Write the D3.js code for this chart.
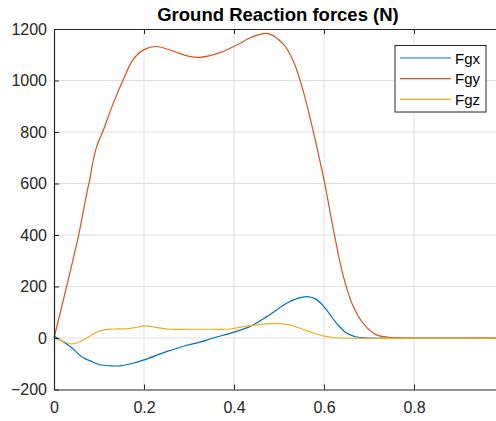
<!DOCTYPE html>
<html><head><meta charset="utf-8">
<script src="https://cdn.jsdelivr.net/npm/d3@7"></script>
<style>body{margin:0;background:#fff;overflow:hidden}svg{display:block}text{font-family:"Liberation Sans",Arial,sans-serif}</style>
</head><body>
<div id="chart"></div>
<script>
const title="Ground Reaction forces (N)";
const xTicks=[0,0.2,0.4,0.6,0.8];
const yTicks=[-200,0,200,400,600,800,1000,1200];
const fgxT=[0,0.018,0.036,0.065,0.085,0.102,0.125,0.147,0.175,0.2,0.25,0.295,0.324,0.354,0.398,0.435,0.473,0.517,0.543,0.563,0.58,0.598,0.628,0.65,0.668,0.68,0.7,1];
const fgxV=[8,-12,-33,-77,-92,-104,-108,-108,-98,-85,-53,-28,-16,0,22,44,83,135,155,161,153,126,57,19,6,2,0,0];
const fgyT=[0,0.028,0.054,0.073,0.08,0.086,0.095,0.11,0.132,0.154,0.176,0.2,0.228,0.265,0.3,0.324,0.369,0.413,0.436,0.476,0.51,0.532,0.554,0.576,0.601,0.621,0.643,0.665,0.687,0.717,0.747,0.78,1];
const fgyV=[0,200,394,563,620,680,744,809,913,1004,1082,1120,1132,1114,1094,1090,1108,1144,1166,1182,1140,1075,958,803,605,420,239,122,57,12,2,0,0];
const fgzT=[0,0.02,0.039,0.058,0.08,0.102,0.132,0.161,0.185,0.202,0.23,0.258,0.3,0.347,0.391,0.428,0.47,0.495,0.52,0.547,0.575,0.598,0.62,0.64,1];
const fgzV=[0,-12,-23,-14,8,28,35,36,42,47,40,34,34,34,35,46,55,57,52,38,20,8,2,0,0];
const series=[
  {name:"Fgx",t:fgxT,v:fgxV,color:"#0072BD"},
  {name:"Fgy",t:fgyT,v:fgyV,color:"#D95319"},
  {name:"Fgz",t:fgzT,v:fgzV,color:"#EDB120"}
];

const W=496,H=421,ax="#262626",grid="#dfdfdf";
const x=d3.scaleLinear().domain([0,1]).range([54,504]);
const y=d3.scaleLinear().domain([-200,1200]).range([389.5,29]);
const svg=d3.select("#chart").append("svg").attr("width",W).attr("height",H);

// grid
svg.append("g").selectAll("line").data(xTicks.slice(1)).join("line")
  .attr("x1",d=>x(d)).attr("x2",d=>x(d)).attr("y1",y(-200)).attr("y2",y(1200))
  .attr("stroke",grid).attr("stroke-width",1);
svg.append("g").selectAll("line").data(yTicks.slice(1,-1)).join("line")
  .attr("x1",x(0)).attr("x2",x(1)).attr("y1",d=>y(d)).attr("y2",d=>y(d))
  .attr("stroke",grid).attr("stroke-width",1);

// data
const line=d3.line().x(d=>x(d[0])).y(d=>y(d[1])).curve(d3.curveCatmullRom.alpha(.5));
svg.append("g").selectAll("path").data(series).join("path")
  .attr("d",s=>line(s.t.map((t,i)=>[t,s.v[i]])))
  .attr("fill","none").attr("stroke",s=>s.color).attr("stroke-width",1.2);

// axes
const style=s=>{
  s.attr("font-family",null);
  s.select(".domain").attr("stroke",ax).attr("stroke-width",1.2);
  s.selectAll(".tick line").attr("stroke",ax);
  s.selectAll(".tick text").attr("fill",ax).attr("font-size",16);
};
svg.append("g").attr("transform",`translate(0,${y(-200)})`)
  .call(d3.axisBottom(x).tickValues(xTicks).tickFormat(d3.format("~g")).tickSize(-5).tickSizeOuter(0).tickPadding(12))
  .call(style);
svg.append("g").attr("transform",`translate(0,${y(1200)})`)
  .call(d3.axisTop(x).tickValues(xTicks).tickFormat("").tickSize(-5).tickSizeOuter(0))
  .call(style);
svg.append("g").attr("transform",`translate(${x(0)},0)`)
  .call(d3.axisLeft(y).tickValues(yTicks).tickFormat(d3.format("d")).tickSize(-5).tickSizeOuter(0).tickPadding(7))
  .call(style);

// title
svg.append("text").attr("x",278).attr("y",21).attr("text-anchor","middle")
  .attr("font-size",18.5).attr("font-weight","bold").attr("fill","#000").text(title);

// legend
const lg=svg.append("g").attr("transform","translate(395,45.5)");
lg.append("rect").attr("width",91).attr("height",66.5).attr("fill","#fff").attr("stroke",ax).attr("stroke-width",1);
const item=lg.selectAll(".item").data(series).join("g").attr("transform",(d,i)=>`translate(0,${12.5+i*20.7})`);
item.append("line").attr("x1",5).attr("x2",56).attr("stroke",d=>d.color).attr("stroke-width",1.2);
item.append("text").attr("x",60).attr("y",5.5).attr("font-size",15).attr("fill","#000").text(d=>d.name);
</script>
</body></html>
